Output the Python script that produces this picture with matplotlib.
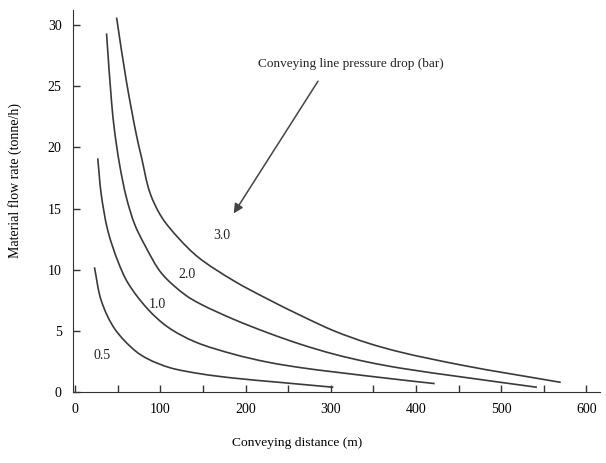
import matplotlib
matplotlib.use('Agg')
import matplotlib.pyplot as plt
from matplotlib.path import Path
from matplotlib.patches import PathPatch
import numpy as np

plt.rcParams['font.family'] = ['Liberation Serif', 'DejaVu Serif']

# curves, one per pressure drop (bar)
x_05 = [22.5, 30.4, 46, 70, 85.6, 111, 147, 186, 240, 303]
y_05 = [10.2, 7.5, 5.2, 3.4, 2.7, 2.0, 1.5, 1.15, 0.8, 0.4]

x_10 = [26.4, 30.4, 38.2, 50, 62, 85.6, 109, 141, 186, 226, 265, 304, 383, 422]
y_10 = [19.1, 16.2, 13.2, 10.7, 8.9, 6.75, 5.3, 4.1, 3.1, 2.45, 2.0, 1.65, 1.0, 0.7]

x_20 = [36.7, 42.6, 46.2, 52, 60, 69.8, 81.7, 101.4, 129, 147, 186, 226,
        265, 304, 344, 383, 458, 542]
y_20 = [29.3, 23.7, 21.3, 18.6, 15.9, 13.7, 12.0, 9.7, 7.95, 7.2, 5.95, 4.85,
        3.9, 3.1, 2.45, 1.95, 1.2, 0.4]

x_30 = [48.5, 60, 71.8, 77.7, 87.6, 101.4, 121, 144.7, 186, 226, 265, 304, 344,
        383, 458, 570]
y_30 = [30.6, 25.4, 21.0, 19.2, 16.3, 14.3, 12.6, 11.0, 9.1, 7.6, 6.25, 5.0, 4.0,
        3.25, 2.15, 0.8]

curve_labels = ['0.5', '1.0', '2.0', '3.0']
label_pos = [(31, 3.0), (96, 7.2), (131, 9.6), (172, 12.8)]

x_ticks = [0, 100, 200, 300, 400, 500, 600]
y_ticks = [0, 5, 10, 15, 20, 25, 30]


def smooth_path(xs, ys, sx=0.855, sy=12.25, alpha=0.5):
    '''Centripetal Catmull-Rom through the points, as Bezier segments.
    Done in screen-like units (sx, sy) so the bends look even.'''
    P = np.column_stack([np.asarray(xs, float) * sx, np.asarray(ys, float) * sy])
    P = np.vstack([2 * P[0] - P[1], P, 2 * P[-1] - P[-2]])
    verts = [P[1]]
    codes = [Path.MOVETO]
    for i in range(1, len(P) - 2):
        p0, p1, p2, p3 = P[i - 1], P[i], P[i + 1], P[i + 2]
        d1 = np.linalg.norm(p1 - p0) ** alpha
        d2 = np.linalg.norm(p2 - p1) ** alpha
        d3 = np.linalg.norm(p3 - p2) ** alpha
        b1 = (d1 ** 2 * p2 - d2 ** 2 * p0 + (2 * d1 ** 2 + 3 * d1 * d2 + d2 ** 2) * p1) \
            / (3 * d1 * (d1 + d2))
        b2 = (d3 ** 2 * p1 - d2 ** 2 * p3 + (2 * d3 ** 2 + 3 * d3 * d2 + d2 ** 2) * p2) \
            / (3 * d3 * (d3 + d2))
        verts += [b1, b2, p2]
        codes += [Path.CURVE4] * 3
    verts = np.array(verts) / [sx, sy]
    return Path(verts, codes)


fig = plt.figure(figsize=(6.06, 4.63), dpi=100)
ax = fig.add_axes([0.120, 0.153, 0.870, 0.825])

line_col = '#3a3a3a'
for xs, ys in [(x_05, y_05), (x_10, y_10), (x_20, y_20), (x_30, y_30)]:
    ax.add_patch(PathPatch(smooth_path(xs, ys), facecolor='none',
                           edgecolor=line_col, lw=1.2))

for lab, (lx, ly) in zip(curve_labels, label_pos):
    ax.text(lx, ly, lab, fontsize=10, ha='center', va='center', color='#222222')

ax.text(324, 26.8, 'Conveying line pressure drop (bar)', fontsize=9.5,
        ha='center', va='center', color='#222222')
ax.annotate('', xy=(186, 14.6), xytext=(285, 25.4),
            arrowprops=dict(arrowstyle='-|>', color='#444444', lw=1.1,
                            mutation_scale=14, shrinkA=0, shrinkB=0))

ax.set_xlim(-3, 616)
ax.set_ylim(0, 31.2)
ax.set_xticks(x_ticks)
ax.set_xticks([50, 150, 250, 350, 450, 550], minor=True)
ax.set_yticks(y_ticks)
ax.tick_params(which='both', direction='in', length=5, width=1, color='#333333',
               labelsize=10, pad=8)
ax.spines['top'].set_visible(False)
ax.spines['right'].set_visible(False)
for s in ['left', 'bottom']:
    ax.spines[s].set_color('#333333')

ax.set_xlabel('Conveying distance (m)', fontsize=9.7)
ax.set_ylabel('Material flow rate (tonne/h)', fontsize=10)
ax.xaxis.set_label_coords(0.425, -0.118)
ax.yaxis.set_label_coords(-0.097, 0.555)

fig.savefig('out.png', dpi=100)
